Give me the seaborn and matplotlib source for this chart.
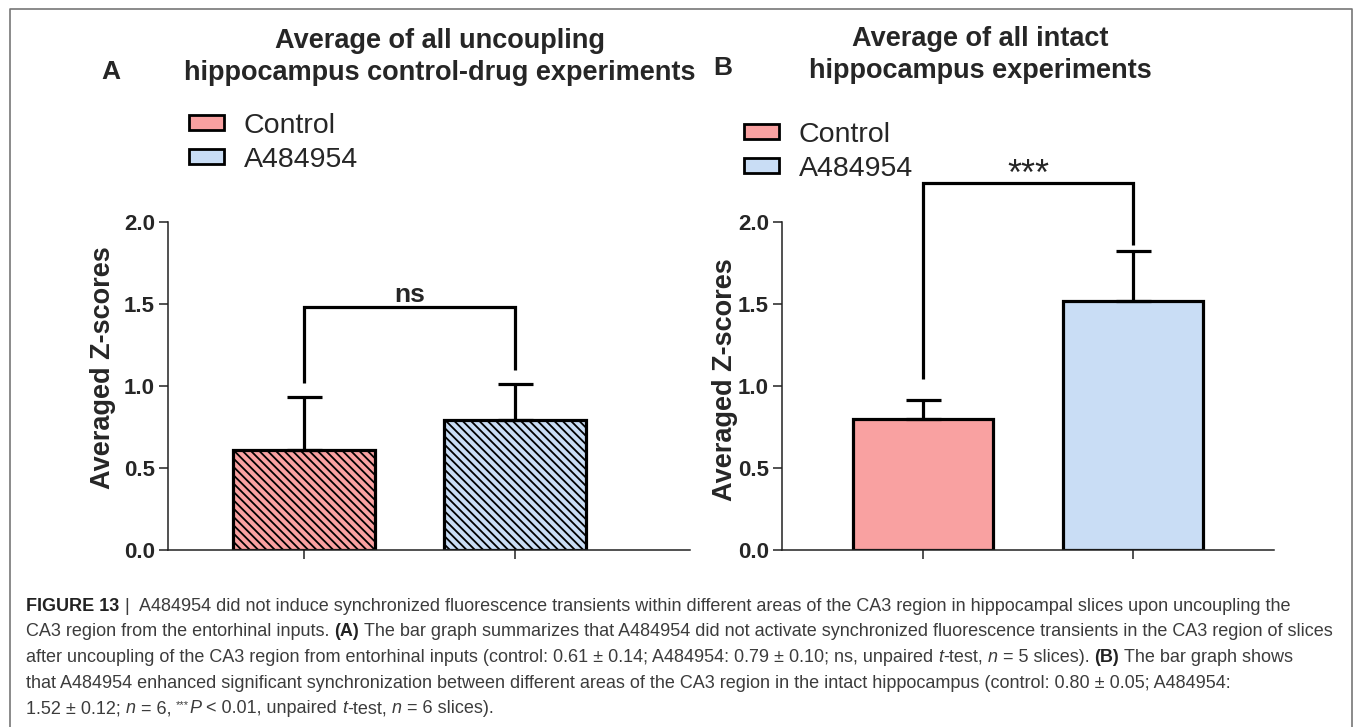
import numpy as np
import pandas as pd
import matplotlib
matplotlib.use("Agg")
import matplotlib.pyplot as plt
import seaborn as sns
from matplotlib.patches import Patch
from matplotlib.lines import Line2D

# ---------------- data ----------------
groups = ["Control", "A484954"]
uncoupled_means = [0.61, 0.79]
uncoupled_errs = [0.32, 0.225]
intact_means = [0.80, 1.52]
intact_errs = [0.115, 0.305]
y_ticks = [0.0, 0.5, 1.0, 1.5, 2.0]
sig_labels = ["ns", "***"]
# bracket levels (left foot, top, right foot) in data units
bracket_A = [1.02, 1.48, 1.10]
bracket_B = [1.04, 2.24, 1.86]

title_A = "Average of all uncoupling\nhippocampus control-drug experiments"
title_B = "Average of all intact\nhippocampus experiments"
ylabel = "Averaged Z-scores"

pink = "#F9A1A1"
blue = "#C9DDF5"

sns.set_theme(style="ticks")
plt.rcParams["font.family"] = ["Liberation Sans", "DejaVu Sans"]
plt.rcParams["hatch.linewidth"] = 1.3
plt.rcParams["hatch.color"] = "black"

W, H = 1355, 727
fig = plt.figure(figsize=(W / 100, H / 100), dpi=100)


def px_axes(left, right, bottom, top):
    return fig.add_axes([left / W, 1 - bottom / H, (right - left) / W, (bottom - top) / H])


axA = px_axes(168, 690, 550, 222)
axB = px_axes(782, 1274, 550, 222)


def draw_panel(ax, means, errs, hatch, xlim, bracket, sig, sig_kw, sig_pad, ylab_xy):
    df = pd.DataFrame({"Group": groups, "Value": means})
    sns.barplot(data=df, x="Group", y="Value", hue="Group", palette=[pink, blue],
                saturation=1, width=0.67, edgecolor="black", linewidth=2.3, errorbar=None,
                legend=False, ax=ax, zorder=2)
    for p in ax.patches:
        p.set_edgecolor("black")
        if hatch:
            p.set_hatch(hatch)
    ax.errorbar(x=np.arange(len(groups)), y=means, yerr=[np.zeros(len(errs)), errs],
                fmt="none", ecolor="black", elinewidth=2.3, capsize=12.6, capthick=2.3,
                zorder=3)
    l, t, r = bracket
    ax.plot([0, 0, 1, 1], [l, t, t, r], color="black", lw=2.3, clip_on=False,
            solid_capstyle="butt", solid_joinstyle="miter", zorder=4)
    ax.text(0.5, t + sig_pad, sig, ha="center", va="bottom", clip_on=False, **sig_kw)
    ax.set_xlim(*xlim)
    ax.set_ylim(0, 2.0)
    ax.set_yticks(y_ticks)
    ax.set_yticklabels([f"{v:.1f}" for v in y_ticks], fontsize=16, fontweight="bold")
    ax.set_xticks([0, 1])
    ax.set_xticklabels(["", ""])
    ax.set_xlabel("")
    ax.set_ylabel(ylabel, fontsize=19.5, fontweight="bold")
    ax.yaxis.set_label_coords(*ylab_xy)
    sns.despine(ax=ax)
    for s in ["left", "bottom"]:
        ax.spines[s].set_linewidth(1.1)
        ax.spines[s].set_color("#222222")
    ax.tick_params(axis="both", length=6.5, width=1.1, color="#222222", pad=3)
    ax.grid(False)


draw_panel(axA, uncoupled_means, uncoupled_errs, "\\\\\\\\", (-0.645, 1.83), bracket_A,
           sig_labels[0], dict(fontsize=19, fontweight="bold"), 0.0, (-0.100, 0.555))
draw_panel(axB, intact_means, intact_errs, None, (-0.671, 1.671), bracket_B,
           sig_labels[1], dict(fontsize=26), -0.06, (-0.090, 0.52))

# legends
handles = [Patch(facecolor=pink, edgecolor="black", linewidth=2.0, label=groups[0]),
           Patch(facecolor=blue, edgecolor="black", linewidth=2.0, label=groups[1])]
leg_kw = dict(loc="upper left", bbox_transform=fig.transFigure, frameon=False, fontsize=20.5,
              handlelength=1.23, handleheight=0.42, handletextpad=0.7, labelspacing=0.28,
              borderpad=0, borderaxespad=0)
axA.legend(handles=handles, bbox_to_anchor=(189 / W, 1 - 113 / H), **leg_kw)
axB.legend(handles=handles, bbox_to_anchor=(744 / W, 1 - 122 / H), **leg_kw)

# titles and panel letters
fig.text(440 / W, 1 - 57 / H, title_A, ha="center", va="center", fontsize=19.5,
         fontweight="bold", linespacing=1.25)
fig.text(980 / W, 1 - 55 / H, title_B, ha="center", va="center", fontsize=19.5,
         fontweight="bold", linespacing=1.25)
fig.text(111 / W, 1 - 72 / H, "A", ha="center", va="center", fontsize=19, fontweight="bold")
fig.text(723 / W, 1 - 68 / H, "B", ha="center", va="center", fontsize=19, fontweight="bold")

# frame
fig.add_artist(Line2D([10 / W, 10 / W, 1352 / W, 1352 / W], [0, 1 - 9 / H, 1 - 9 / H, 0],
                      transform=fig.transFigure, color="#777777", lw=1.2))

# caption
cap_color = "#3c3c3c"
cap_size = 13
renderer = fig.canvas.get_renderer()


def seg_width(txt, **kw):
    t = fig.text(0, 0, txt, fontsize=kw.get("fontsize", cap_size),
                 fontweight=kw.get("fontweight", "normal"), fontstyle=kw.get("fontstyle", "normal"))
    w = t.get_window_extent(renderer).width
    t.remove()
    return w


space_w = seg_width("x x") - seg_width("xx")


def draw_line(x, y, segments):
    for seg in segments:
        txt, style = seg
        kw = dict(fontsize=cap_size, color=cap_color, fontweight="normal", fontstyle="normal")
        dy = 0
        if "b" in style:
            kw["fontweight"] = "bold"
            kw["color"] = "#222222"
        if "i" in style:
            kw["fontstyle"] = "italic"
        if "s" in style:
            kw["fontsize"] = cap_size * 0.62
            dy = 5
        lead = len(txt) - len(txt.lstrip(" "))
        trail = len(txt) - len(txt.rstrip(" "))
        x += lead * space_w
        core = txt.strip(" ")
        t = fig.text(x / W, 1 - (y - dy) / H, core, ha="left", va="baseline", **kw)
        bb = t.get_window_extent(renderer)
        x = bb.x1 + trail * space_w


caption_lines = [
    [("FIGURE 13", "b"), (" |  ", ""),
     ("A484954 did not induce synchronized fluorescence transients within different areas of the CA3 region in hippocampal slices upon uncoupling the", "")],
    [("CA3 region from the entorhinal inputs. ", ""), ("(A)", "b"),
     (" The bar graph summarizes that A484954 did not activate synchronized fluorescence transients in the CA3 region of slices", "")],
    [("after uncoupling of the CA3 region from entorhinal inputs (control: 0.61 \u00b1 0.14; A484954: 0.79 \u00b1 0.10; ns, unpaired ", ""),
     ("t", "i"), ("-test, ", ""), ("n", "i"), (" = 5 slices). ", ""), ("(B)", "b"), (" The bar graph shows", "")],
    [("that A484954 enhanced significant synchronization between different areas of the CA3 region in the intact hippocampus (control: 0.80 \u00b1 0.05; A484954:", "")],
    [("1.52 \u00b1 0.12; ", ""), ("n", "i"), (" = 6, ", ""), ("***", "s"), ("P", "i"),
     (" < 0.01, unpaired ", ""), ("t", "i"), ("-test, ", ""), ("n", "i"), (" = 6 slices).", "")],
]
for i, line in enumerate(caption_lines):
    draw_line(26, 611 + i * 25.5, line)

fig.savefig("out.png", dpi=100)
